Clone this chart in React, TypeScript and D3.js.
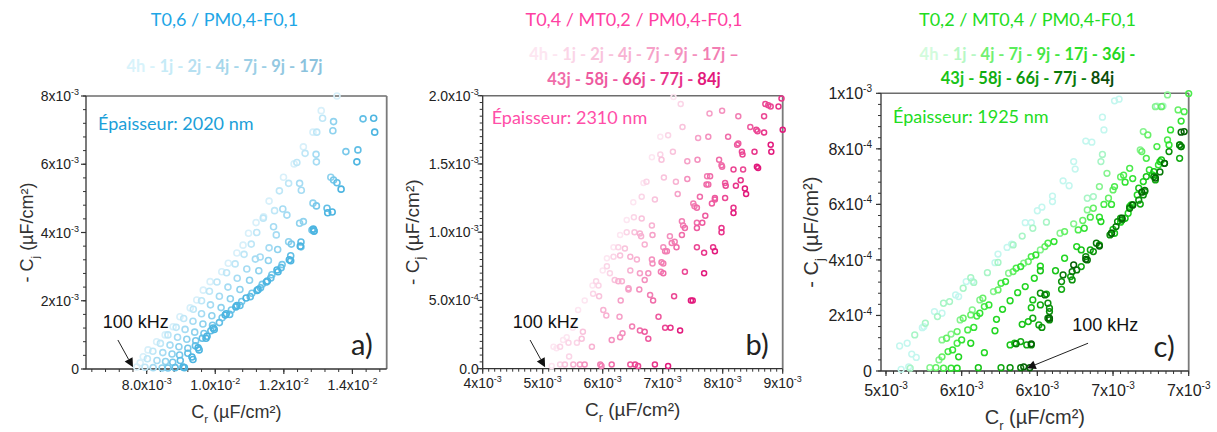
import React from 'react';
import * as d3 from 'd3';

type Pt = [number, number];

const FONT_AX = "'Liberation Sans', Arial, sans-serif";
const FONT_TXT = "Lato, 'Open Sans', sans-serif";

// ---------------- Panel a : T0,6 / PM0,4-F0,1 (x, y in 1e-3 µF/cm²) ----------------
const aTitle = 'T0,6 / PM0,4-F0,1';
const aThickness = 'Épaisseur: 2020 nm';
const aLegend = ['4h', '1j', '2j', '4j', '7j', '9j', '17j'];
const aColors = ['#d8f0fa', '#bfe7f7', '#a6dcf3', '#8ed2ee', '#78c8ea', '#62bfe6', '#4db5e1'];
const aLegendColors = ['#d8f3fb', '#c6ebf7', '#b6e0f1', '#a6d7eb', '#9ccfe6', '#93c8e1', '#8bc2dd'];
const a4h: Pt[] = [[7.71,0.06],[7.81,0.18],[7.9,0.36],[8.04,0.56],[8.29,0.8],[8.54,1.0],[8.77,1.24],[8.97,1.53],[9.27,1.79],[9.46,2.02],[9.65,2.31],[9.85,2.56],[10.19,2.85],[10.38,3.1],[10.63,3.4],[10.81,3.63],[10.97,3.98],[11.19,4.29],[11.41,4.46],[11.57,4.92],[11.99,5.62],[12.3,6.01],[12.57,6.51],[12.85,6.94],[13.09,7.57],[13.55,8.0]];
const a1j: Pt[] = [[7.95,0.05],[8.02,0.3],[8.18,0.52],[8.4,0.75],[8.62,1.0],[8.86,1.22],[9.08,1.48],[9.36,1.75],[9.6,2.0],[9.83,2.28],[10.05,2.55],[10.33,2.82],[10.58,3.08],[10.84,3.36],[11.05,3.66],[11.21,4.0],[11.4,4.42],[11.73,4.64],[11.87,5.22],[12.14,5.44],[12.38,6.05],[12.62,6.32],[12.96,6.94],[13.13,7.35]];
const a2j: Pt[] = [[8.19,0.04],[8.3,0.25],[8.47,0.48],[8.68,0.7],[8.9,0.93],[9.12,1.16],[9.35,1.4],[9.6,1.62],[9.86,1.88],[10.12,2.13],[10.37,2.4],[10.64,2.66],[10.92,2.93],[11.17,3.22],[11.31,3.28],[11.57,3.55],[11.7,4.17],[11.78,3.93],[11.97,4.69],[12.09,4.51],[12.46,5.44],[12.51,5.24],[12.95,6.07],[12.94,6.29]];
const a4j: Pt[] = [[8.45,0.03],[8.55,0.22],[8.74,0.44],[8.94,0.65],[9.17,0.87],[9.4,1.08],[9.64,1.32],[9.9,1.56],[10.17,1.8],[10.44,2.06],[10.72,2.33],[11.0,2.6],[11.27,2.88],[11.55,3.18],[11.82,3.5],[12.14,3.73],[12.46,4.27],[12.57,4.32],[12.85,4.86],[13.37,5.62],[13.43,6.98],[13.45,7.25]];
const a7j: Pt[] = [[8.62,0.03],[8.76,0.2],[8.96,0.41],[9.2,0.61],[9.43,0.83],[9.67,1.04],[9.92,1.28],[10.2,1.5],[10.47,1.73],[10.77,1.98],[11.07,2.22],[11.37,2.48],[11.65,2.76],[11.95,3.06],[12.22,3.66],[12.5,3.58],[12.82,4.07],[12.95,4.78],[13.45,5.54],[13.81,6.37]];
const a9j: Pt[] = [[8.83,0.04],[8.98,0.25],[9.2,0.46],[9.42,0.68],[9.62,0.9],[9.87,1.12],[10.12,1.36],[10.42,1.6],[10.72,1.86],[11.02,2.12],[11.32,2.38],[11.62,2.67],[11.92,2.97],[12.2,3.32],[12.5,3.72],[12.88,4.05],[13.26,4.71],[13.55,5.46],[14.16,6.42],[14.31,7.33]];
const a17j: Pt[] = [[9.06,0.06],[9.1,0.04],[9.32,0.35],[9.35,0.28],[9.5,0.62],[9.53,0.56],[9.73,0.9],[9.76,0.96],[9.94,1.2],[9.97,1.16],[10.29,1.58],[10.32,1.62],[10.6,1.82],[10.63,1.86],[10.9,2.08],[11.22,2.3],[11.25,2.33],[11.49,2.55],[11.52,2.58],[11.8,2.9],[11.83,2.85],[12.16,3.2],[12.2,3.17],[12.48,3.6],[12.86,4.1],[12.88,4.04],[13.28,4.58],[13.41,4.6],[13.67,5.27],[14.13,6.07],[14.65,6.94],[14.62,7.35]];
const aSeries: Pt[][] = [a4h, a1j, a2j, a4j, a7j, a9j, a17j];
const aXTicks = [8, 10, 12, 14];
const aXTickLabels = ['8.0x10^-3', '1.0x10^-2', '1.2x10^-2', '1.4x10^-2'];
const aYTicks = [0, 2, 4, 6, 8];
const aYTickLabels = ['0', '2x10^-3', '4x10^-3', '6x10^-3', '8x10^-3'];

// ---------------- Panel b : T0,4 / MT0,2 / PM0,4-F0,1 (x, y in 1e-3 µF/cm²) ----------------
const bTitle = 'T0,4 / MT0,2 / PM0,4-F0,1';
const bThickness = 'Épaisseur: 2310 nm';
const bLegend = ['4h', '1j', '2j', '4j', '7j', '9j', '17j', '43j', '58j', '66j', '77j', '84j'];
const bColors = ['#fde6f1', '#fbd5e7', '#f9c3dc', '#f8b2d2', '#f6a1c8', '#f490be', '#f27eb3', '#f06ca9', '#ee5a9f', '#eb4794', '#e8348a', '#e2197c'];
const b4h: Pt[] = [[5.15,0.02],[5.18,0.16],[5.23,0.15],[5.34,0.21],[5.4,0.23],[5.5,0.3],[5.59,0.43],[5.7,0.5],[5.83,0.61],[6.0,0.72],[6.07,0.81],[6.18,0.89],[6.29,0.98],[6.4,1.09],[6.51,1.22],[6.68,1.36],[6.82,1.55],[6.96,1.7],[7.18,1.99]];
const b1j: Pt[] = [[5.29,0.03],[5.29,0.16],[5.43,0.19],[5.44,0.09],[5.57,0.19],[5.84,0.55],[5.89,0.64],[5.93,0.61],[6.07,0.75],[6.12,0.7],[6.18,0.82],[6.26,0.89],[6.4,1.0],[6.52,1.11],[6.65,1.26],[6.73,1.37],[6.96,1.57],[7.09,1.71],[7.3,1.94]];
const b2j: Pt[] = [[5.37,0.03],[5.65,0.22],[5.67,0.27],[5.94,0.53],[6.2,0.65],[6.29,0.83],[6.37,0.88],[6.53,1.0],[6.65,1.1],[6.87,1.24],[7.02,1.4],[6.98,1.53],[7.17,1.59],[7.33,1.77]];
const b4j: Pt[] = [[5.51,0.03],[5.82,0.16],[6.01,0.43],[6.06,0.39],[6.26,0.64],[6.32,0.64],[6.46,0.72],[6.46,0.82],[6.57,0.8],[6.62,0.99],[6.64,0.97],[6.7,0.91],[6.82,1.05],[7.22,1.37]];
const b7j: Pt[] = [[5.62,0.03],[6.28,0.38],[6.3,0.5],[6.43,0.59],[6.43,0.58],[6.62,0.7],[6.83,0.98],[7.25,1.28],[7.41,1.52],[7.59,1.69],[7.78,1.87]];
const b9j: Pt[] = [[5.7,0.03],[6.15,0.21],[6.29,0.23],[6.33,0.26],[6.61,0.58],[6.7,0.65],[6.76,0.7],[6.82,0.8],[6.83,0.77],[7.01,0.89],[7.12,0.97],[7.41,1.39],[7.58,1.53],[7.76,1.7],[7.99,1.89]];
const b17j: Pt[] = [[5.96,0.03],[5.98,0.02],[6.49,0.31],[6.79,0.54],[6.97,0.71],[6.98,0.78],[7.01,0.77],[7.04,0.86],[7.07,0.86],[7.15,0.92],[7.2,0.93],[7.32,1.08],[7.34,1.05],[7.51,1.21],[7.53,1.19],[7.74,1.41],[8.26,1.85]];
const b43j: Pt[] = [[6.15,0.03],[6.62,0.28],[6.84,0.5],[7.01,0.7],[7.23,0.89],[7.32,0.98],[7.37,1.03],[7.57,1.07],[7.57,1.18],[7.62,1.26],[7.73,1.35],[7.76,1.35],[7.79,1.41],[7.94,1.53],[7.98,1.49],[7.99,1.48],[8.09,1.7]];
const b58j: Pt[] = [[6.46,0.03],[6.7,0.27],[6.76,0.22],[6.93,0.38],[7.57,1.03],[7.66,1.07],[7.71,1.12],[7.82,1.21],[7.87,1.25],[7.87,1.24],[8.04,1.36],[8.24,1.64],[8.26,1.65],[8.46,1.77]];
const b66j: Pt[] = [[6.54,0.03],[6.59,0.02],[7.04,0.3],[7.19,0.53],[7.37,0.71],[7.57,0.89],[8.04,1.25],[8.05,1.34],[8.18,1.46],[8.34,1.46],[8.32,1.59],[8.33,1.57],[8.56,1.75],[8.58,1.74],[8.69,1.85],[8.71,1.94],[8.76,1.93],[8.8,1.92]];
const b77j: Pt[] = [[6.87,0.03],[7.13,0.3],[7.69,0.85],[7.84,0.89],[7.98,1.03],[7.98,1.0],[8.18,1.18],[8.22,1.34],[8.3,1.38],[8.53,1.59],[8.69,1.73],[8.93,1.92],[8.98,1.98]];
const b84j: Pt[] = [[7.09,0.02],[7.29,0.28],[7.47,0.5],[7.5,0.5],[7.69,0.7],[7.87,0.86],[8.18,1.14],[8.37,1.32],[8.39,1.28],[8.57,1.48],[8.59,1.47],[8.8,1.64],[8.81,1.59],[9.0,1.75]];
const bSeries: Pt[][] = [b4h, b1j, b2j, b4j, b7j, b9j, b17j, b43j, b58j, b66j, b77j, b84j];
const bXTicks = [4, 5, 6, 7, 8, 9];
const bXTickLabels = ['4x10^-3', '5x10^-3', '6x10^-3', '7x10^-3', '8x10^-3', '9x10^-3'];
const bYTicks = [0, 0.5, 1, 1.5, 2];
const bYTickLabels = ['0.0', '5.0x10^-4', '1.0x10^-3', '1.5x10^-3', '2.0x10^-3'];

// ---------------- Panel c : T0,2 / MT0,4 / PM0,4-F0,1 (x in 1e-3, y in 1e-4 µF/cm²) ----------------
const cTitle = 'T0,2 / MT0,4 / PM0,4-F0,1';
const cThickness = 'Épaisseur: 1925 nm';
const cLegend = ['4h', '1j', '4j', '7j', '9j', '17j', '36j', '43j', '58j', '66j', '77j', '84j'];
const cColors = ['#c4f7ef', '#a8f5c6', '#86f48f', '#66f066', '#4beb4b', '#33e333', '#22d722', '#18c418', '#11ab11', '#0b910b', '#087a08', '#056205'];
const cLegendColors = ['#d2fbdc', '#b6f8c4', '#72f072', '#5aee5a', '#44e844', '#2ee02e', '#22d822', '#18c418', '#10ae10', '#0c980c', '#0a7a0a', '#0a4e0a'];
const c4h: Pt[] = [[5.1,0.06],[5.15,0.15],[5.17,0.61],[5.2,0.49],[5.09,0.9],[5.14,1.0],[5.24,1.56],[5.25,1.6],[5.32,2.14],[5.37,2.08],[5.46,2.74],[5.48,2.68],[5.53,3.22],[5.57,3.24],[5.72,3.9],[5.74,4.21],[5.8,4.45],[5.83,4.57],[5.92,5.34],[5.96,5.34],[6.0,5.77],[6.03,5.9],[6.1,6.3],[6.1,6.1],[6.17,6.85],[6.21,6.67],[6.24,7.54],[6.25,7.27],[6.32,8.28],[6.36,8.24],[6.43,9.14],[6.44,8.68],[6.51,9.73],[6.54,9.79]];
const c1j: Pt[] = [[5.16,0.1],[5.19,1.3],[5.26,1.72],[5.34,1.96],[5.38,2.44],[5.42,2.5],[5.51,2.98],[5.56,3.36],[5.58,3.19],[5.67,3.54],[5.74,3.91],[5.84,4.54],[5.9,4.86],[5.97,5.14],[6.06,5.36],[6.33,6.22],[6.37,6.28],[6.42,7.54],[6.43,7.8],[6.79,9.54],[6.83,9.54]];
const c4j: Pt[] = [[5.29,0.12],[5.35,0.4],[5.37,1.12],[5.43,1.33],[5.49,1.84],[5.57,2.2],[5.62,2.56],[5.71,2.86],[5.81,3.52],[5.91,3.88],[6.02,4.36],[6.15,4.96],[6.24,5.3],[6.33,5.8],[6.41,6.64],[6.46,7.12],[6.68,7.96],[6.7,8.62],[6.78,9.52],[6.86,9.94]];
const c7j: Pt[] = [[5.33,0.12],[5.37,0.51],[5.4,1.18],[5.47,1.42],[5.51,1.9],[5.56,2.02],[5.64,2.62],[5.74,2.92],[5.84,3.58],[5.94,3.94],[6.05,4.48],[6.18,5.02],[6.3,5.42],[6.37,5.86],[6.47,6.22],[6.5,6.52],[6.55,6.99],[6.69,7.9],[6.73,8.5],[6.82,9.52],[6.93,9.4]];
const c9j: Pt[] = [[5.38,0.1],[5.41,0.7],[5.47,1.0],[5.54,1.48],[5.6,1.98],[5.65,2.32],[5.76,3.16],[5.86,3.7],[5.96,4.12],[6.07,4.6],[6.27,5.08],[6.35,5.54],[6.44,6.0],[6.51,6.64],[6.57,7.05],[6.61,7.3],[6.72,7.66],[6.79,8.08],[6.86,8.32],[6.97,9.34],[7.0,9.99]];
const c17j: Pt[] = [[5.43,0.1],[5.44,0.76],[5.5,1.12],[5.58,1.57],[5.62,2.08],[5.68,2.38],[5.79,3.22],[5.89,3.76],[5.99,4.18],[6.11,4.66],[6.31,5.14],[6.41,5.54],[6.49,6.0],[6.58,6.8],[6.63,6.93],[6.74,7.24],[6.8,7.42],[6.87,8.14],[6.88,8.68],[6.95,9.0]];
const c36j: Pt[] = [[5.47,0.1],[5.48,0.51],[5.56,1.0],[5.65,0.66],[5.72,1.45],[5.73,1.86],[5.77,2.22],[5.82,2.53],[5.87,2.82],[5.92,3.04],[5.98,3.34],[6.02,3.78],[6.18,4.06],[6.26,4.48],[6.42,5.38],[6.55,5.36],[6.6,5.68],[6.62,5.98],[6.66,6.34],[6.7,6.82],[6.76,7.06],[6.81,7.54],[6.94,8.14]];
const c43j: Pt[] = [[5.61,0.12],[5.82,0.94],[5.85,1.0],[5.9,1.68],[5.94,1.78],[5.96,2.28],[5.97,2.56],[6.02,3.61],[6.12,3.61],[6.29,4.36],[6.5,5.1],[6.51,4.96],[6.58,5.5],[6.61,5.92],[6.67,6.58],[6.72,7.0],[6.77,7.18],[6.82,7.6],[6.95,8.08]];
const c58j: Pt[] = [[5.76,0.12],[5.89,1.06],[5.93,0.94],[5.97,1.9],[6.01,1.66],[6.02,2.38],[6.06,2.77],[6.16,2.94],[6.22,3.4],[6.29,3.76],[6.35,4.36],[6.41,4.54],[6.49,4.96],[6.55,5.5],[6.63,5.98],[6.68,6.01],[6.71,6.46],[6.78,6.88],[6.84,7.48],[6.94,7.66]];
const c66j: Pt[] = [[5.82,0.12],[5.96,0.94],[6.03,1.57],[6.08,1.84],[6.08,2.14],[6.08,2.26],[6.07,2.44],[6.02,2.8],[6.16,3.22],[6.23,3.28],[6.32,4.12],[6.37,4.3],[6.48,4.9],[6.53,5.38],[6.56,5.44],[6.67,6.15],[6.7,6.34],[6.77,7.0],[6.87,7.9]];
const c77j: Pt[] = [[5.89,0.12],[5.86,0.98],[6.07,1.9],[6.05,2.74],[6.17,3.46],[6.23,3.58],[6.26,3.64],[6.33,4.0],[6.39,4.6],[6.52,5.2],[6.61,5.86],[6.71,6.5],[6.81,7.17],[6.94,8.14],[6.95,8.08]];
const c84j: Pt[] = [[5.95,0.12],[5.91,0.15],[5.96,0.98],[6.08,1.9],[6.24,3.82],[6.32,4.02],[6.41,4.5],[6.49,4.96],[6.56,5.5],[6.63,5.98],[6.69,6.44],[6.78,6.95],[6.84,7.48],[6.95,8.6],[6.97,8.62]];
const cSeries: Pt[][] = [c4h, c1j, c4j, c7j, c9j, c17j, c36j, c43j, c58j, c66j, c77j, c84j];
const cXTicks = [5, 5.5, 6, 6.5, 7];
const cXTickLabels = ['5x10^-3', '6x10^-3', '6x10^-3', '7x10^-3', '7x10^-3'];
const cYTicks = [0, 2, 4, 6, 8, 10];
const cYTickLabels = ['0', '2x10^-4', '4x10^-4', '6x10^-4', '8x10^-4', '1x10^-3'];

// ---------------- layout / options ----------------
interface PanelCfg {
  frame: { left: number; right: number; top: number; bottom: number };
  xDomain: [number, number];
  yDomain: [number, number];
  xTicks: number[]; xTickLabels: string[]; xMinor: number;
  yTicks: number[]; yTickLabels: string[]; yMinor: number;
  tickFont: number; supFont: number; xLabelDy: number; yLabelGap: number;
  series: Pt[][]; colors: string[]; r: number; sw: number;
  title: string; titleColor: string; titleX: number;
  legend: string[]; legendColors: string[]; legendSplit: number; legendEnd: string;
  legendY: number[];
  thickness: string; thickColor: string; thickDx: number; thickDy: number;
  letter: string;
  arrowFrom: Pt; arrowTo: Pt; khz: Pt;
  axisFont: number; xTitleY: number; yTitleX: number;
}

const panels: PanelCfg[] = [
  {
    frame: { left: 86, right: 386.7, top: 96, bottom: 369 },
    xDomain: [6.23, 15.0], yDomain: [0, 8],
    xTicks: aXTicks, xTickLabels: aXTickLabels, xMinor: 0.4,
    yTicks: aYTicks, yTickLabels: aYTickLabels, yMinor: 0.4,
    tickFont: 14, supFont: 9, xLabelDy: 21, yLabelGap: 7,
    series: aSeries, colors: aColors, r: 3, sw: 1.6,
    title: aTitle, titleColor: '#1ea6e6', titleX: 224.5,
    legend: aLegend, legendColors: aLegendColors, legendSplit: 99, legendEnd: '',
    legendY: [72],
    thickness: aThickness, thickColor: '#1c9fd9', thickDx: 12, thickDy: 34,
    letter: 'a)',
    arrowFrom: [7.16, 0.85], arrowTo: [7.6, 0.05], khz: [6.72, 1.38],
    axisFont: 18, xTitleY: 418, yTitleX: 27,
  },
  {
    frame: { left: 482.7, right: 782.7, top: 95.7, bottom: 368.7 },
    xDomain: [4, 9], yDomain: [0, 2],
    xTicks: bXTicks, xTickLabels: bXTickLabels, xMinor: 0.1,
    yTicks: bYTicks, yTickLabels: bYTickLabels, yMinor: 0.05,
    tickFont: 14, supFont: 9, xLabelDy: 19, yLabelGap: 4,
    series: bSeries, colors: bColors, r: 2.5, sw: 1.5,
    title: bTitle, titleColor: '#ff3fa2', titleX: 634,
    legend: bLegend, legendColors: bColors, legendSplit: 7, legendEnd: ' \u2013',
    legendY: [60, 85],
    thickness: bThickness, thickColor: '#ff4ea8', thickDx: 9, thickDy: 28,
    letter: 'b)',
    arrowFrom: [4.79, 0.21], arrowTo: [5.04, 0.01], khz: [4.5, 0.34],
    axisFont: 19, xTitleY: 416, yTitleX: 412,
  },
  {
    frame: { left: 881, right: 1188.7, top: 93.3, bottom: 371 },
    xDomain: [4.967, 7.0], yDomain: [0, 10],
    xTicks: cXTicks, xTickLabels: cXTickLabels, xMinor: 0.05,
    yTicks: cYTicks, yTickLabels: cYTickLabels, yMinor: 0.4,
    tickFont: 16, supFont: 10, xLabelDy: 25, yLabelGap: 9,
    series: cSeries, colors: cColors, r: 2.9, sw: 1.5,
    title: cTitle, titleColor: '#22dc22', titleX: 1027.5,
    legend: cLegend, legendColors: cLegendColors, legendSplit: 7, legendEnd: ' -',
    legendY: [60, 84],
    thickness: cThickness, thickColor: '#22dc22', thickDx: 12, thickDy: 30,
    letter: 'c)',
    arrowFrom: [6.335, 1.0], arrowTo: [5.93, 0.1], khz: [6.23, 1.66],
    axisFont: 20, xTitleY: 424, yTitleX: 811,
  },
];

function TickLabel(props: { x: number; y: number; label: string; anchor: string; size: number; sup: number }) {
  const [base, exp] = props.label.split('^');
  return (
    <text x={props.x} y={props.y} textAnchor={props.anchor} fontSize={props.size} fontFamily={FONT_AX} fill="#222">
      {base}
      {exp !== undefined && <tspan dy={-props.size * 0.42} fontSize={props.sup}>{exp}</tspan>}
    </text>
  );
}

function minorValues(domain: [number, number], step: number): number[] {
  const out: number[] = [];
  const start = Math.ceil(domain[0] / step - 1e-9);
  const end = Math.floor(domain[1] / step + 1e-9);
  for (let i = start; i <= end; i++) out.push(+(i * step).toFixed(6));
  return out;
}

function Panel({ cfg }: { cfg: PanelCfg }) {
  const { frame } = cfg;
  const x = d3.scaleLinear().domain(cfg.xDomain).range([frame.left, frame.right]);
  const y = d3.scaleLinear().domain(cfg.yDomain).range([frame.bottom, frame.top]);
  const midX = (frame.left + frame.right) / 2;
  const midY = (frame.top + frame.bottom) / 2;

  const ax0 = x(cfg.arrowFrom[0]), ay0 = y(cfg.arrowFrom[1]);
  const ax1 = x(cfg.arrowTo[0]), ay1 = y(cfg.arrowTo[1]);
  const ang = Math.atan2(ay1 - ay0, ax1 - ax0);
  const hl = 9, hw = 4.5;
  const bx = ax1 - hl * Math.cos(ang), by = ay1 - hl * Math.sin(ang);
  const head = [
    [ax1, ay1],
    [bx + hw * Math.sin(ang), by - hw * Math.cos(ang)],
    [bx - hw * Math.sin(ang), by + hw * Math.cos(ang)],
  ].map((p) => p.join(',')).join(' ');

  const lines: { label: string; color: string; sep: string }[][] = [[], []];
  cfg.legend.forEach((l, i) => {
    const line = i < cfg.legendSplit ? 0 : 1;
    const lastOfLine = i === cfg.legend.length - 1 || i === cfg.legendSplit - 1;
    let sep = lastOfLine ? '' : ' - ';
    if (i === cfg.legendSplit - 1 && cfg.legend.length > cfg.legendSplit) sep = cfg.legendEnd;
    lines[line].push({ label: l, color: cfg.legendColors[i], sep });
  });

  return (
    <g>
      <text x={cfg.titleX} y={26} textAnchor="middle" fontFamily={FONT_TXT} fontSize={18} fill={cfg.titleColor}>
        {cfg.title}
      </text>
      {lines.filter((l) => l.length).map((line, li) => (
        <text key={li} x={cfg.titleX} y={cfg.legendY[li]} textAnchor="middle" fontFamily={FONT_TXT}
          fontSize={16.5} fontWeight="bold" style={{ whiteSpace: 'pre' }}>
          {line.map((it, k) => (
            <tspan key={k} fill={it.color}>{it.label + it.sep}</tspan>
          ))}
        </text>
      ))}

      {minorValues(cfg.xDomain, cfg.xMinor).map((v, i) => (
        <line key={'xm' + i} x1={x(v)} x2={x(v)} y1={frame.bottom} y2={frame.bottom + 3} stroke="#333" strokeWidth={1} />
      ))}
      {minorValues(cfg.yDomain, cfg.yMinor).map((v, i) => (
        <line key={'ym' + i} x1={frame.left - 3} x2={frame.left} y1={y(v)} y2={y(v)} stroke="#333" strokeWidth={1} />
      ))}
      {cfg.xTicks.map((v, i) => (
        <g key={'xt' + i}>
          <line x1={x(v)} x2={x(v)} y1={frame.bottom} y2={frame.bottom + 5} stroke="#333" strokeWidth={1.2} />
          <TickLabel x={x(v)} y={frame.bottom + cfg.xLabelDy} label={cfg.xTickLabels[i]} anchor="middle" size={cfg.tickFont} sup={cfg.supFont} />
        </g>
      ))}
      {cfg.yTicks.map((v, i) => (
        <g key={'yt' + i}>
          <line x1={frame.left - 5} x2={frame.left} y1={y(v)} y2={y(v)} stroke="#333" strokeWidth={1.2} />
          <TickLabel x={frame.left - cfg.yLabelGap} y={y(v) + cfg.tickFont * 0.36} label={cfg.yTickLabels[i]} anchor="end" size={cfg.tickFont} sup={cfg.supFont} />
        </g>
      ))}

      <line x1={frame.left} x2={frame.right} y1={frame.top} y2={frame.top} stroke="#6d6d6d" strokeWidth={1.4} />
      <line x1={frame.right} x2={frame.right} y1={frame.top} y2={frame.bottom} stroke="#7a7a7a" strokeWidth={1.8} />
      <line x1={frame.left} x2={frame.left} y1={frame.top} y2={frame.bottom} stroke="#333" strokeWidth={1.3} />
      <line x1={frame.left} x2={frame.right} y1={frame.bottom} y2={frame.bottom} stroke="#333" strokeWidth={1.3} />

      <text x={midX} y={cfg.xTitleY} textAnchor="middle" fontFamily={FONT_AX} fontSize={cfg.axisFont} fill="#333">
        C<tspan fontSize={cfg.axisFont * 0.65} dy={cfg.axisFont * 0.3}>r</tspan>
        <tspan dy={-cfg.axisFont * 0.3}> (µF/cm²)</tspan>
      </text>
      <text transform={`translate(${cfg.yTitleX},${midY}) rotate(-90)`} textAnchor="middle" dy="0.35em"
        fontFamily={FONT_AX} fontSize={cfg.axisFont} fill="#333">
        - C<tspan fontSize={cfg.axisFont * 0.65} dy={cfg.axisFont * 0.3}>j</tspan>
        <tspan dy={-cfg.axisFont * 0.3}> (µF/cm²)</tspan>
      </text>

      {cfg.series.map((s, si) => (
        <g key={'s' + si}>
          {s.map((p, pi) => (
            <circle key={pi} cx={x(p[0])} cy={y(p[1])} r={cfg.r} fill="none" stroke={cfg.colors[si]} strokeWidth={cfg.sw} />
          ))}
        </g>
      ))}

      <text x={frame.left + cfg.thickDx} y={frame.top + cfg.thickDy} fontFamily={FONT_TXT} fontSize={18} fill={cfg.thickColor}>
        {cfg.thickness}
      </text>
      <text x={x(cfg.khz[0])} y={y(cfg.khz[1]) + 6} fontFamily={FONT_AX} fontSize={18} fill="#111">100 kHz</text>
      <line x1={ax0} y1={ay0} x2={bx} y2={by} stroke="#222" strokeWidth={1} />
      <polygon points={head} fill="#111" />
      <text x={frame.right - 14} y={frame.bottom - 14} textAnchor="end" fontFamily={FONT_TXT} fontSize={29} fill="#222">
        {cfg.letter}
      </text>
    </g>
  );
}

export default function App() {
  return (
    <svg width={1217} height={432} viewBox="0 0 1217 432" style={{ position: 'absolute', left: 0, top: 0, background: '#fff' }}>
      <rect x={0} y={0} width={1217} height={432} fill="#fff" />
      {panels.map((p, i) => (
        <Panel key={i} cfg={p} />
      ))}
    </svg>
  );
}
